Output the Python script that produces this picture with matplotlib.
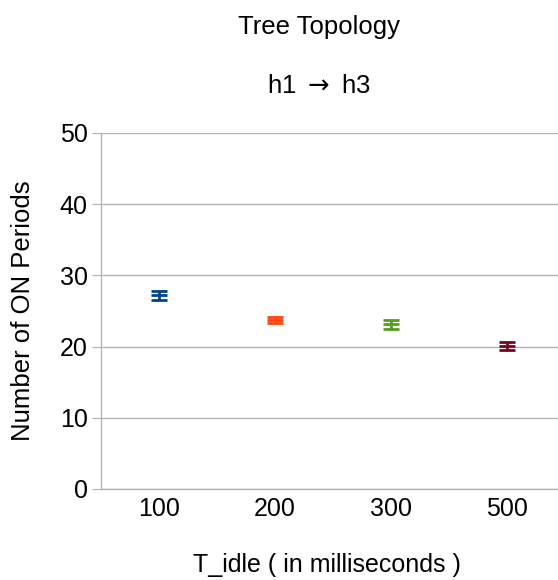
import matplotlib.pyplot as plt

plt.rcParams['font.family'] = ['Liberation Sans', 'DejaVu Sans']

# data
t_idle = ['100', '200', '300', '500']
on_periods = [27.2, 23.75, 23.15, 20.05]
err = [0.62, 0.47, 0.62, 0.55]
colors = ['#004586', '#ff420e', '#579d1c', '#7e0021']

W, H = 558, 580
fig = plt.figure(figsize=(W / 100, H / 100), dpi=100)
left, right, bottom, top = 101, 565, 489, 133
ax = fig.add_axes([left / W, 1 - bottom / H, (right - left) / W, (bottom - top) / H])

x = range(len(t_idle))
for i in x:
    ax.errorbar(i, on_periods[i], yerr=err[i], fmt='_', color=colors[i],
                ms=11.5, mew=2.0, capsize=5.8, capthick=2.0, elinewidth=2.0)

ax.set_xlim(-0.5, len(t_idle) - 0.5)
ax.set_ylim(0, 50)
ax.set_yticks(range(0, 51, 10))
ax.set_xticks(list(x))
ax.set_xticklabels(t_idle)
ax.grid(axis='y', color='#b3b3b3', lw=1)
ax.set_axisbelow(True)
for s in ['top', 'right']:
    ax.spines[s].set_visible(False)
for s in ['left', 'bottom']:
    ax.spines[s].set_color('#b3b3b3')
    ax.spines[s].set_linewidth(1)
ax.tick_params(axis='y', length=6.5, color='#b3b3b3', labelsize=18, pad=3)
ax.tick_params(axis='x', length=0, labelsize=18, pad=6)

ax.set_ylabel('Number of ON Periods', fontsize=18.5)
ax.set_xlabel('T_idle ( in milliseconds )', fontsize=18)
ax.xaxis.set_label_coords((327 - left) / (right - left), (bottom - 565) / (bottom - top))
ax.xaxis.label.set_va('center')
ax.yaxis.set_label_coords((23 - left) / (right - left), 0.5)
ax.yaxis.label.set_va('center')

fig.text(319 / W, 1 - 27 / H, 'Tree Topology', ha='center', va='center', fontsize=18.5)
fig.text(319 / W, 1 - 86 / H, 'h1 $\\rightarrow$ h3', ha='center', va='center', fontsize=18.5)

fig.savefig('out.png', dpi=100)
